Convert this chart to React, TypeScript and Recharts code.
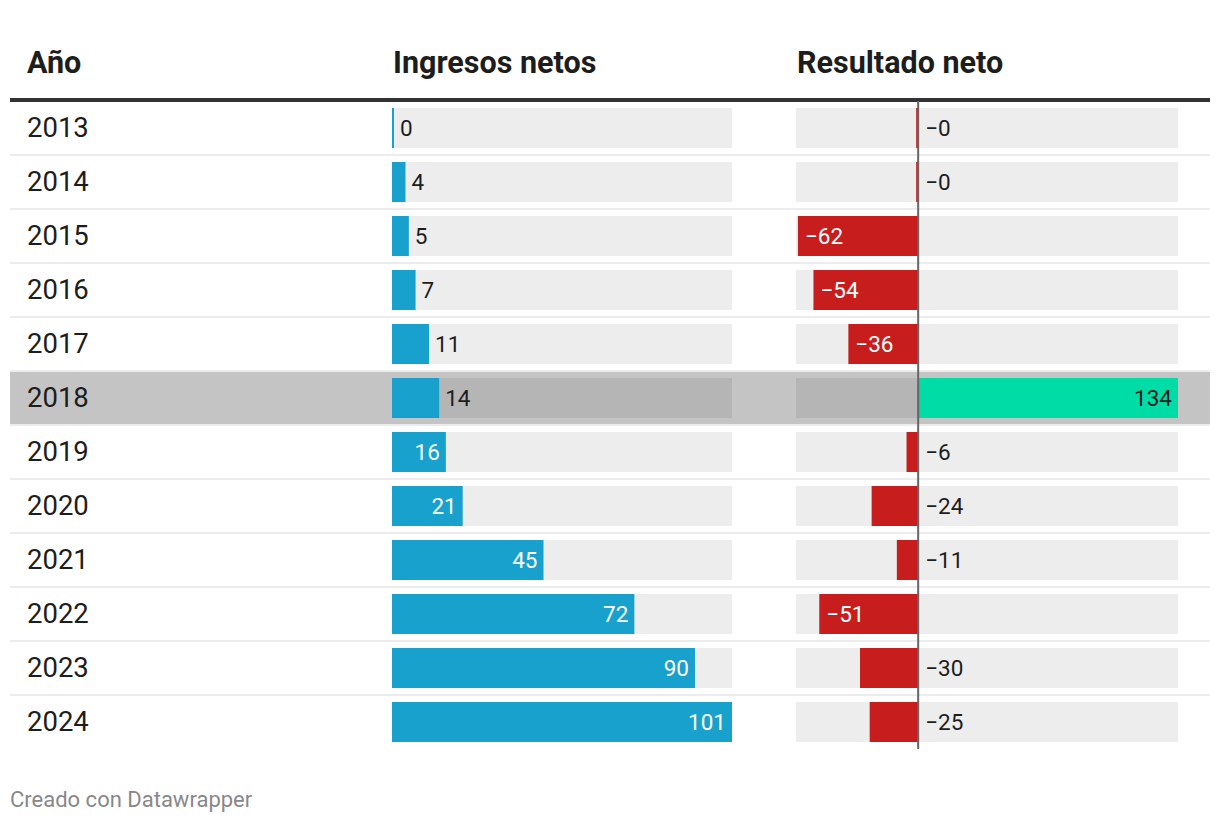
import { BarChart, Bar, XAxis, YAxis, LabelList, ReferenceLine } from 'recharts'

const years = ['2013', '2014', '2015', '2016', '2017', '2018', '2019', '2020', '2021', '2022', '2023', '2024']
const ingresos = [0, 4, 5, 7, 11, 14, 16, 21, 45, 72, 90, 101]
const resultado = [-0.3, -0.2, -62, -54, -36, 134, -6, -24, -11, -51, -30, -25]
const highlightYear = '2018'

const rows = years.map((year, i) => ({ year, ingresos: ingresos[i], resultado: resultado[i] }))

const FONT = 'Roboto, "Noto Sans", sans-serif'
const ROW_H = 54
const TOP = 101
const BLUE = '#18a1cd'
const RED = '#c71e1d'
const GREEN = '#00dca6'
const TEXT = '#1d1d1d'

const fmt = (v: number) => {
  const r = Math.round(v)
  return v < 0 ? `\u2212${Math.abs(r)}` : `${r}`
}

const bgShape = (p: any) => {
  const hl = p.payload?.year === highlightYear || p.index === years.indexOf(highlightYear)
  return <rect key={`bg-${p.index}`} x={p.x} y={p.y} width={p.width} height={p.height} fill={hl ? '#b5b5b5' : '#ededed'} />
}

const barShape = (color: (v: number) => string) => (p: any) => {
  const w = p.width || 0
  const v = p.value ?? p.payload?.resultado
  let left = Math.min(p.x, p.x + w)
  let width = Math.abs(w)
  if (width < 2) {
    width = 2
    if (w < 0 || (typeof v === 'number' && v < 0)) left = p.x - 2
  }
  return <rect x={left} y={p.y} width={width} height={p.height} fill={color(typeof v === 'number' ? v : 0)} />
}

const ingresosLabel = (p: any) => {
  const w = Math.max(p.width || 0, 2)
  const cy = p.y + p.height / 2
  const inside = w >= 50
  return (
    <text
      x={inside ? p.x + w - 6 : p.x + w + 6}
      y={cy}
      dy="0.36em"
      textAnchor={inside ? 'end' : 'start'}
      fill={inside ? '#fff' : TEXT}
      fontSize={22.5}
      fontFamily={FONT}
    >
      {fmt(p.value)}
    </text>
  )
}

const resultadoLabel = (p: any) => {
  const w = p.width || 0
  const left = Math.min(p.x, p.x + w)
  const right = Math.max(p.x, p.x + w)
  const cy = p.y + p.height / 2
  const v = p.value as number
  let x = 0
  let anchor = 'start'
  let fill = TEXT
  if (v >= 0) {
    x = right - 6
    anchor = 'end'
  } else if (right - left >= 65) {
    x = left + 7
    fill = '#fff'
  } else {
    x = right + 7
  }
  return (
    <text x={x} y={cy} dy="0.36em" textAnchor={anchor as any} fill={fill} fontSize={22.5} fontFamily={FONT}>
      {fmt(v)}
    </text>
  )
}

const headStyle = { position: 'absolute' as const, top: 43, fontSize: 30.5, fontWeight: 700, lineHeight: '40px' }

export default function App() {
  const hlIndex = years.indexOf(highlightYear)
  return (
    <div style={{ position: 'absolute', left: 0, top: 0, width: 1220, height: 824, background: '#fff', fontFamily: FONT, color: TEXT }}>
      {/* header */}
      <div style={{ ...headStyle, left: 27 }}>Año</div>
      <div style={{ ...headStyle, left: 393 }}>Ingresos netos</div>
      <div style={{ ...headStyle, left: 797 }}>Resultado neto</div>
      <div style={{ position: 'absolute', left: 10, top: 98, width: 1200, height: 4, background: '#333' }} />

      {/* highlighted row */}
      <div style={{ position: 'absolute', left: 10, top: TOP + hlIndex * ROW_H - 1, width: 1200, height: ROW_H + 1, background: '#c4c4c4', borderTop: '2px solid #b8b8b8', boxSizing: 'border-box' }} />

      {/* separators + years */}
      {years.map((y, i) => (
        <div key={y}>
          {i < years.length - 1 && (
            <div style={{ position: 'absolute', left: 10, top: TOP + (i + 1) * ROW_H - 1, width: 1200, height: 2, background: '#ececec' }} />
          )}
          <div style={{ position: 'absolute', left: 27, top: TOP + i * ROW_H, height: ROW_H, lineHeight: `${ROW_H}px`, fontSize: 27.5 }}>{y}</div>
        </div>
      ))}

      <div style={{ position: 'absolute', left: 392, top: TOP }}>
        <BarChart width={340} height={ROW_H * years.length} data={rows} layout="vertical" margin={{ top: 0, right: 0, bottom: 0, left: 0 }}>
          <XAxis type="number" domain={[0, 101]} hide />
          <YAxis type="category" dataKey="year" hide />
          <Bar dataKey="ingresos" barSize={40} isAnimationActive={false} background={bgShape} shape={barShape(() => BLUE)}>
            <LabelList dataKey="ingresos" content={ingresosLabel} />
          </Bar>
        </BarChart>
      </div>

      <div style={{ position: 'absolute', left: 796, top: TOP }}>
        <BarChart width={382} height={ROW_H * years.length} data={rows} layout="vertical" margin={{ top: 0, right: 0, bottom: 0, left: 0 }}>
          <XAxis type="number" domain={[-63, 134]} hide />
          <YAxis type="category" dataKey="year" hide />
          <Bar dataKey="resultado" barSize={40} isAnimationActive={false} background={bgShape} shape={barShape((v) => (v >= 0 ? GREEN : RED))}>
            <LabelList dataKey="resultado" content={resultadoLabel} />
          </Bar>
          <ReferenceLine x={0} stroke="#666" strokeWidth={2} />
        </BarChart>
      </div>

      <div style={{ position: 'absolute', left: 10, top: 786, fontSize: 22, lineHeight: '28px', color: '#888' }}>Creado con Datawrapper</div>
    </div>
  )
}
